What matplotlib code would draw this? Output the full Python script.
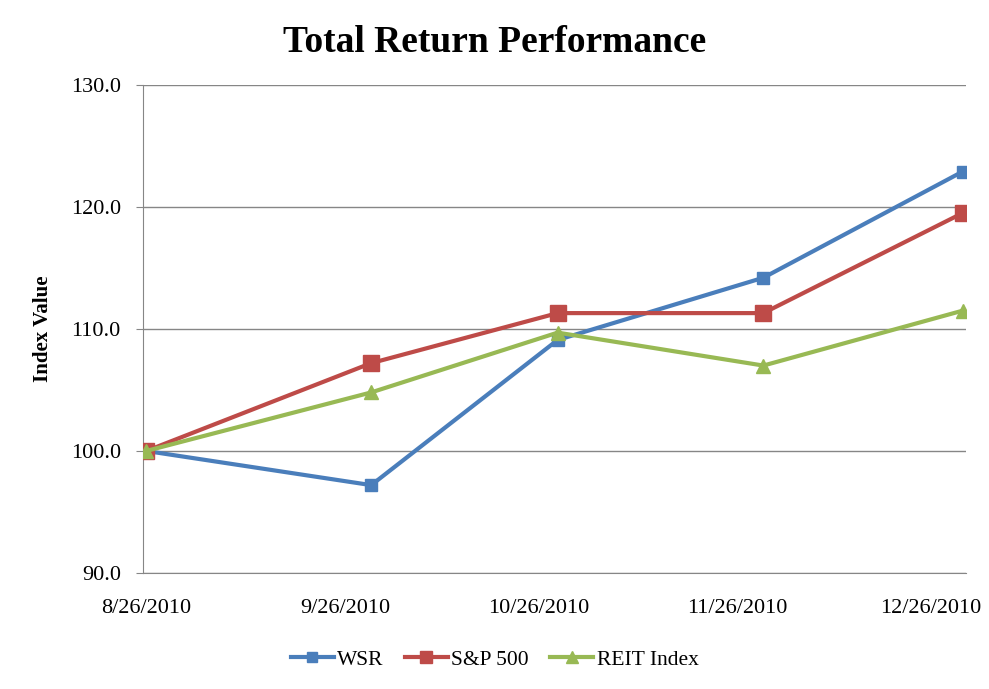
from datetime import datetime, timedelta

import matplotlib
matplotlib.use("Agg")
import matplotlib.dates as mdates
import matplotlib.pyplot as plt
from matplotlib.ticker import FuncFormatter

plt.rcParams["font.family"] = ["Liberation Serif", "DejaVu Serif"]

dates = [
    datetime(2010, 8, 26),
    datetime(2010, 9, 30),
    datetime(2010, 10, 29),
    datetime(2010, 11, 30),
    datetime(2010, 12, 31),
]
tick_dates = [
    datetime(2010, 8, 26),
    datetime(2010, 9, 26),
    datetime(2010, 10, 26),
    datetime(2010, 11, 26),
    datetime(2010, 12, 26),
]
wsr = [100.0, 97.2, 109.1, 114.2, 122.9]
sp500 = [100.0, 107.2, 111.3, 111.3, 119.5]
reit = [100.0, 104.8, 109.7, 107.0, 111.5]

BLUE = "#4A7EBB"
RED = "#BE4B48"
GREEN = "#98B954"
GRID = "#868686"

fig = plt.figure(figsize=(9.89, 6.89), dpi=100)
ax = fig.add_axes([0.1446, 0.1684, 0.832, 0.7083])

ax.plot(dates, wsr, color=BLUE, lw=3, marker="s", ms=9, label="WSR", zorder=3)
ax.plot(dates, sp500, color=RED, lw=3, marker="s", ms=11, label="S&P 500", zorder=3)
ax.plot(dates, reit, color=GREEN, lw=3, marker="^", ms=10, label="REIT Index", zorder=3)

ax.set_ylim(90, 130)
ax.set_yticks([90, 100, 110, 120, 130])
ax.yaxis.set_major_formatter(FuncFormatter(lambda v, _: f"{v:.1f}"))
ax.set_xlim(dates[0] - timedelta(hours=12), dates[-1] + timedelta(hours=12))
ax.set_xticks(tick_dates)
ax.xaxis.set_major_formatter(
    FuncFormatter(lambda v, _: (lambda d: f"{d.month}/{d.day}/{d.year}")(mdates.num2date(v)))
)

ax.grid(axis="y", color=GRID, lw=1)
ax.set_axisbelow(True)
for side in ("top", "right"):
    ax.spines[side].set_visible(False)
for side in ("left", "bottom"):
    ax.spines[side].set_color(GRID)
ax.tick_params(axis="y", length=5, color=GRID, pad=11, labelsize=16)
ax.tick_params(axis="x", length=0, pad=19, labelsize=16)

ax.set_ylabel("Index Value", fontsize=15, fontweight="bold", labelpad=13)
fig.text(0.5, 1 - 52 / 689, "Total Return Performance", fontsize=27, fontweight="bold",
         ha="center", va="baseline")

fig.legend(loc="lower center", bbox_to_anchor=(0.5, 0.0), ncol=3, frameon=False,
           fontsize=15.5, handlelength=2.0, columnspacing=1.0, handletextpad=0.15,
           markerscale=0.85)

fig.savefig("out.png", dpi=100)
